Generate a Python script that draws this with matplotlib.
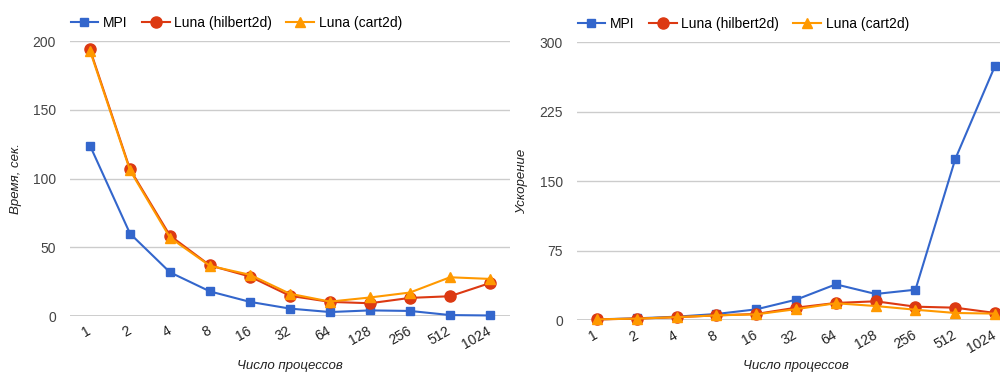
import numpy as np
import matplotlib
matplotlib.use("Agg")
import matplotlib.pyplot as plt

plt.rcParams["font.family"] = ["Liberation Sans", "DejaVu Sans"]

# ---- data ----
procs = ["1", "2", "4", "8", "16", "32", "64", "128", "256", "512", "1024"]

time_mpi = [124, 60, 31.8, 17.9, 10.3, 5.4, 2.9, 4.1, 3.7, 0.7, 0.4]
time_hilbert = [194, 106.8, 58.5, 36.8, 28.7, 14.7, 10.3, 9.3, 13.2, 14.4, 24]
time_cart = [193, 106, 57, 36.5, 30, 16.2, 10.5, 13.5, 17.1, 28.2, 27]

speed_mpi = [1, 2.1, 3.9, 6.8, 11.8, 22.2, 38.8, 28.4, 33, 174, 274.7]
speed_hilbert = [1, 1.8, 3.3, 5.3, 6.8, 13.6, 18.7, 20.5, 14.7, 13.6, 7.9]
speed_cart = [1, 1.8, 3.4, 5.3, 6.4, 12, 18.4, 15.4, 11.4, 7.9, 7.2]

series_names = ["MPI", "Luna (hilbert2d)", "Luna (cart2d)"]
colors = ["#3366cc", "#dc3912", "#ff9900"]
markers = ["s", "o", "^"]
msizes = [5.5, 8, 7]

fig = plt.figure(figsize=(10, 3.74), dpi=100)
ax1 = fig.add_axes([0.07, 0.155, 0.44, 0.735])
ax2 = fig.add_axes([0.577, 0.1436, 0.438, 0.7434])

x = np.arange(len(procs))


def draw(ax, data, yticks, ylabel, xlab_y):
    for vals, name, c, m, ms in zip(data, series_names, colors, markers, msizes):
        ax.plot(x, vals, color=c, marker=m, markersize=ms, lw=1.5,
                label=name, clip_on=False, zorder=3)
    ax.set_xlim(-0.5, len(procs) - 0.5)
    ax.set_ylim(yticks[0], yticks[-1])
    ax.set_yticks(yticks)
    ax.set_yticklabels([str(t) for t in yticks], fontsize=10, color="#444444")
    ax.set_xticks(x)
    ax.set_xticklabels(procs, rotation=30, ha="right", va="center",
                       rotation_mode="anchor", fontsize=10, color="#222222")
    ax.tick_params(axis="y", length=0, pad=10)
    ax.tick_params(axis="x", length=0, pad=10)
    for s in ax.spines.values():
        s.set_visible(False)
    ax.grid(axis="y", color="#cccccc", lw=1)
    ax.set_axisbelow(True)
    ax.axhline(0, color="#333333", lw=1, zorder=2)
    ax.set_xlabel("Число процессов", fontstyle="italic", fontsize=9.5, color="#222222")
    ax.xaxis.set_label_coords(0.5, xlab_y)
    ax.xaxis.label.set_va("center")
    ax.set_ylabel(ylabel, fontstyle="italic", fontsize=9.5, color="#222222", labelpad=8)
    ax.legend(loc="lower left", bbox_to_anchor=(-0.005, 1.03), ncol=3, frameon=False,
              fontsize=10, handlelength=2.0, columnspacing=1.0, handletextpad=0.35,
              borderaxespad=0, borderpad=0.2)


draw(ax1, [time_mpi, time_hilbert, time_cart], [0, 50, 100, 150, 200], "Время, сек.", -0.182)
draw(ax2, [speed_mpi, speed_hilbert, speed_cart], [0, 75, 150, 225, 300], "Ускорение", -0.165)

fig.savefig("out.png", dpi=100)
